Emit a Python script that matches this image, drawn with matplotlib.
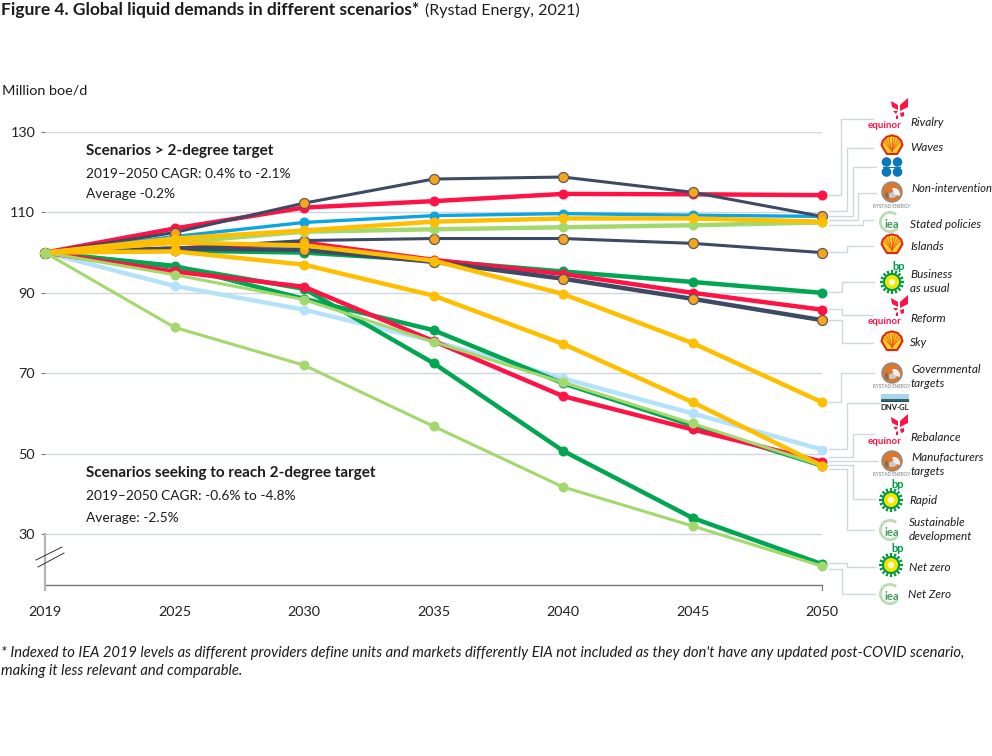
import numpy as np
import matplotlib
matplotlib.use("Agg")
import matplotlib.pyplot as plt
from matplotlib.patches import Circle, Polygon, Wedge, Rectangle

plt.rcParams["font.family"] = ["Lato", "DejaVu Sans"]

# Data
YEARS = ["2019", "2025", "2030", "2035", "2040", "2045", "2050"]
Y_TICKS = [30, 50, 70, 90, 110, 130]

SKY = [100, 101, 100.7, 97.7, 93.5, 88.5, 83.2]
ISLANDS = [100, 101, 103, 103.5, 103.5, 102.3, 100]
BAU = [100, 100.5, 100, 98, 95.3, 92.7, 90]
REFORM = [100, 101, 102.5, 98.2, 94.7, 90, 85.8]
RIVALRY = [100, 106, 111.2, 112.8, 114.6, 114.5, 114.3]
OPEC = [100, 104, 107.5, 109.2, 109.7, 109.3, 109]
WAVES = [100, 105, 112.3, 118.3, 118.8, 115, 109]
DNV = [100, 91.7, 85.8, 78, 68.7, 60, 51]
NET_ZERO_BP = [100, 96.5, 91, 72.5, 50.7, 34, 22.5]
RAPID = [100, 96.7, 88.5, 80.7, 67.5, 57, 47]
REBALANCE = [100, 95.3, 91.5, 78, 64.3, 56, 48]
SDS = [100, 94.5, 88.3, 77.8, 67.7, 57.5, 47]
STATED = [100, 102.5, 105.2, 105.8, 106.3, 106.8, 107.5]
NON_INTERVENTION = [100, 103.5, 105.5, 107.7, 108.5, 108.5, 107.7]
GOVERNMENTAL = [100, 102.5, 101.8, 98, 89.7, 77.5, 62.8]
MANUFACTURERS = [100, 100.3, 97, 89.3, 77.3, 62.8, 47]
NET_ZERO_IEA = [100, 81.4, 72, 56.8, 41.7, 32, 22]

RED = "#ff1245"
NAVY = "#3d4a63"
ORANGE = "#f8a51b"
BLUE = "#0ba5e3"
YELLOW = "#ffbf00"
LGREEN = "#a3d96c"
GREEN = "#00a651"
LBLUE = "#b5e2fb"
GRID = "#cdd7dc"

# values, line colour, marker colour, line width - in drawing order
SERIES = [
    (BAU, GREEN, GREEN, 3.2),
    (REFORM, RED, RED, 3.2),
    (SKY, NAVY, ORANGE, 3.2),
    (ISLANDS, NAVY, ORANGE, 2.2),
    (RIVALRY, RED, RED, 3.2),
    (OPEC, BLUE, BLUE, 2.4),
    (WAVES, NAVY, ORANGE, 2.2),
    (DNV, LBLUE, LBLUE, 3.2),
    (NET_ZERO_BP, GREEN, GREEN, 3.2),
    (RAPID, GREEN, GREEN, 3.2),
    (REBALANCE, RED, RED, 3.2),
    (SDS, LGREEN, LGREEN, 2.2),
    (STATED, LGREEN, LGREEN, 3.2),
    (NON_INTERVENTION, YELLOW, YELLOW, 3.2),
    (GOVERNMENTAL, YELLOW, YELLOW, 3.2),
    (MANUFACTURERS, YELLOW, YELLOW, 3.2),
    (NET_ZERO_IEA, LGREEN, LGREEN, 2.2),
]

# leader lines from the 2050 end points to the logos, in pixels
LEADERS = [
    [(829, 195), (841, 195), (841, 119), (873, 119)],
    [(829, 211), (847, 211), (847, 148), (873, 148)],
    [(829, 216), (853, 216), (853, 167), (876, 167)],
    [(829, 220), (858, 220), (858, 193), (876, 193)],
    [(829, 225), (863, 225), (863, 220), (873, 220)],
    [(829, 252), (847, 252), (847, 246), (873, 246)],
    [(829, 292), (842, 292), (842, 282), (874, 282)],
    [(829, 309), (842, 309), (842, 315), (873, 315)],
    [(829, 320), (842, 320), (842, 343), (873, 343)],
    [(829, 402), (841, 402), (841, 373), (874, 373)],
    [(829, 449), (847, 449), (847, 403), (880, 403)],
    [(829, 457), (853, 457), (853, 434), (874, 434)],
    [(829, 461), (877, 461)],
    [(829, 465), (853, 465), (853, 499), (875, 499)],
    [(829, 469), (847, 469), (847, 530), (874, 530)],
    [(829, 563), (847, 563), (847, 567), (875, 567)],
    [(829, 569), (842, 569), (842, 594), (875, 594)],
]

LABELS = [
    (910, 122, "Rivalry"), (910, 147, "Waves"), (911, 188, "Non-intervention"),
    (910, 224, "Stated policies"), (910, 246, "Islands"),
    (910, 274, "Business"), (910, 288, "as usual"), (910, 318, "Reform"),
    (910, 342, "Sky"), (911, 369, "Governmental"), (911, 383, "targets"),
    (910, 437, "Rebalance"), (911, 457, "Manufacturers"), (911, 471, "targets"),
    (909, 500, "Rapid"), (909, 522, "Sustainable"), (909, 536, "development"),
    (909, 567, "Net zero"), (908, 594, "Net Zero"),
]

W, H = 992, 756
fig = plt.figure(figsize=(W / 100, H / 100), dpi=100)

# main axes: left edge at 2019, right edge at 2050
TOP, BOTTOM = 132, 585
ax = fig.add_axes([45 / W, 1 - BOTTOM / H, (822 - 45) / W, (BOTTOM - TOP) / H])
ax.set_xlim(0, 6)
ax.set_ylim(130 - (BOTTOM - TOP) / 4.02, 130)
for s in ["top", "right", "left"]:
    ax.spines[s].set_visible(False)
ax.spines["bottom"].set_color("#777777")
ax.spines["bottom"].set_linewidth(1.0)
ax.set_yticks(Y_TICKS)
ax.set_xticks(range(len(YEARS)))
ax.set_xticklabels(YEARS)
ax.tick_params(axis="x", length=0, pad=15, labelsize=10.4, colors="#222222")
ax.tick_params(axis="y", length=3, width=0.8, color="#777777", pad=4, labelsize=10.4, labelcolor="#222222")
ax.grid(axis="y", color=GRID, lw=1.0)
ax.set_axisbelow(True)

for vals, col, mcol, lw in SERIES:
    edge = "#5a5a5a" if mcol == ORANGE else mcol
    ew = 0.9 if mcol == ORANGE else 0
    ax.plot(range(len(YEARS)), vals, color=col, lw=lw, marker="o", ms=7.2, mfc=mcol,
            mec=edge, mew=ew, clip_on=False, solid_capstyle="round", zorder=3)

# overlay in pixel coordinates for texts, leaders and logos
ov = fig.add_axes([0, 0, 1, 1], zorder=5)
ov.set_xlim(0, W)
ov.set_ylim(H, 0)
ov.axis("off")
ov.patch.set_alpha(0)


def txt(x, y, s, **kw):
    kw.setdefault("fontsize", 9.9)
    kw.setdefault("color", "#1c1c1c")
    ov.text(x, y + 1.5, s, va="center", ha="left", **kw)


txt(1, 9, "Figure 4. Global liquid demands in different scenarios*", fontsize=12.5, fontweight="bold")
txt(425, 9, "(Rystad Energy, 2021)", fontsize=11.5)
txt(2, 89, "Million boe/d", fontsize=10.4)
txt(86, 149, "Scenarios > 2-degree target", fontweight="bold", fontsize=11)
txt(86, 172, "2019–2050 CAGR: 0.4% to -2.1%")
txt(86, 193, "Average -0.2%")
txt(86, 472, "Scenarios seeking to reach 2-degree target", fontweight="bold", fontsize=11)
txt(86, 494, "2019–2050 CAGR: -0.6% to -4.8%")
txt(86, 516, "Average: -2.5%")
txt(1, 652, "* Indexed to IEA 2019 levels as different providers define units and markets differently EIA not included as they don't have any updated post-COVID scenario,",
    style="italic", fontsize=10.6)
txt(1, 669, "making it less relevant and comparable.", style="italic", fontsize=10.6)

# axis break and tick at the right end
ov.plot([45, 45], [534, 590], color="#b5b5b5", lw=1.6, zorder=1)
ov.plot([36, 62], [560, 547], color="#333333", lw=0.7)
ov.plot([38, 64], [567, 553], color="#333333", lw=0.7)
ov.plot([822, 822], [585, 590], color="#777777", lw=0.8)

for pts in LEADERS:
    xs, ys = zip(*pts)
    ov.plot(xs, ys, color=GRID, lw=1.0, solid_joinstyle="miter")

for x, y, s in LABELS:
    txt(x, y - 1, s, style="italic", fontsize=8.1 if s == "Non-intervention" else 8.5)


def equinor(x, y):
    for pts in (
        [(-8, -7), (-1, -3), (-1, 2), (-7, -1)],
        [(1, -3), (9, -10), (9, -1), (1, 3)],
        [(-6, 3), (-1, 3), (-3, 6)],
        [(1, 5), (5, 4), (5, 8), (2, 9)],
        [(-3, 8), (-1, 7), (-1, 11), (-3, 11)],
    ):
        ov.add_patch(Polygon([(x + a, y + b) for a, b in pts], color=RED, lw=0))
    ov.text(x - 14, y + 17, "equinor", color=RED, fontsize=7, fontweight="bold", ha="center", va="center")


def shell(x, y):
    t = np.linspace(np.pi * 1.03, np.pi * 1.97, 25)
    r = 10 + 0.6 * np.abs(np.cos(t * 6))
    xs = x + r * np.cos(t)
    ys = y + 1 + r * np.sin(t)
    pts = list(zip(xs, ys)) + [(x + 7, y + 6), (x + 5, y + 9), (x - 5, y + 9), (x - 7, y + 6)]
    ov.add_patch(Polygon(pts, fc="#ffd21a", ec="#e2231a", lw=1.5))
    for a in np.linspace(-60, 60, 7):
        ov.plot([x, x + 9 * np.sin(np.radians(a))], [y + 6, y + 1 - 8 * np.cos(np.radians(a))],
                color="#e8572a", lw=0.6)


def opec(x, y):
    for dx in (-5.5, 5.5):
        for dy in (-5, 5):
            ov.add_patch(Circle((x + dx, y + dy), 4.8, fc="#0a78bd", lw=0))
    ov.add_patch(Rectangle((x - 9, y - 0.5), 18, 1.0, fc="#0a78bd", lw=0))


def rystad(x, y):
    ov.add_patch(Circle((x, y), 10, fc="#d9782e", ec="#8a8a8a", lw=1.0))
    ov.add_patch(Wedge((x, y), 6, 20, 150, fc="#c9c9c9", lw=0))
    ov.add_patch(Wedge((x + 2, y + 2), 6, 250, 20, fc="#efefef", lw=0))
    ov.add_patch(Wedge((x - 3, y + 3), 4, 100, 240, fc="#8b6a52", lw=0))
    ov.text(x, y + 14, "RYSTAD ENERGY", fontsize=3.4, color="#777777", ha="center", va="center")


def iea(x, y):
    ov.add_patch(Wedge((x, y), 11, 40, 310, width=2.8, fc="#bcdcb5", lw=0))
    ov.text(x + 2, y + 2, "iea", fontsize=8, fontweight="bold", color="#3f9a57", ha="center", va="center")


def bp(x, y):
    for a in np.arange(0, 360, 22.5):
        ov.add_patch(Wedge((x, y), 12, a - 6, a + 6, fc="#009a44", lw=0))
    ov.add_patch(Circle((x, y), 9, fc="#009a44", lw=0))
    ov.add_patch(Circle((x, y), 7, fc="#f2e600", lw=0))
    ov.add_patch(Circle((x, y), 3.2, fc="#fffbd0", lw=0))
    ov.text(x + 7, y - 16, "bp", fontsize=8, fontweight="bold", color="#009a44", ha="center", va="center")


def dnv(x, y):
    ov.add_patch(Rectangle((x - 14, y - 5), 28, 5, fc="#a9d6ef", lw=0))
    ov.add_patch(Rectangle((x - 14, y), 28, 1.5, fc="#2f6f4f", lw=0))
    ov.add_patch(Rectangle((x - 14, y + 1.5), 28, 1.5, fc="#27408b", lw=0))
    ov.text(x, y + 9, "DNV·GL", fontsize=5.5, fontweight="bold", color="#222222", ha="center", va="center")


equinor(899, 108)
shell(892, 145)
opec(892, 167)
rystad(892, 192)
iea(890, 222)
shell(892, 244)
bp(892, 282)
equinor(899, 305)
shell(892, 341)
rystad(892, 373)
dnv(895, 399)
equinor(899, 424)
rystad(892, 461)
bp(891, 500)
iea(890, 530)
bp(891, 565)
iea(890, 594)

fig.savefig("out.png", dpi=100)
